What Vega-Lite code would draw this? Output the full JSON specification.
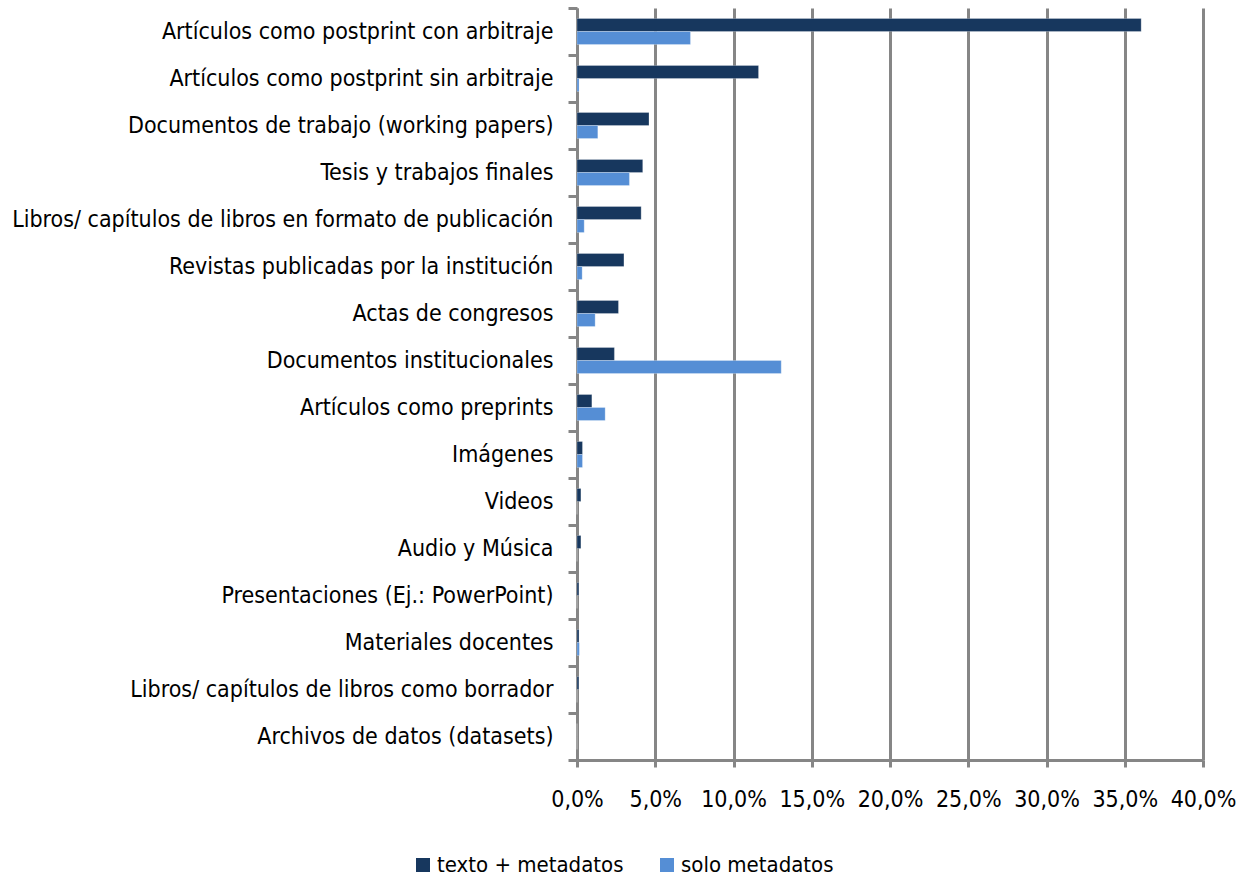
{
  "$schema": "https://vega.github.io/schema/vega-lite/v6.json",
  "width": 626,
  "height": 752,
  "autosize": {"type": "none"},
  "padding": {"left": 577, "top": 8, "right": 48, "bottom": 117},
  "background": "white",
  "config": {
    "view": {"stroke": null},
    "font": "DejaVu Sans Condensed",
    "axis": {"labelFont": "DejaVu Sans Condensed", "labelColor": "#000000"},
    "legend": {"labelFont": "DejaVu Sans Condensed", "labelColor": "#000000"}
  },
  "data": {
    "values": [
      {"cat": "Artículos como postprint con arbitraje", "serie": "texto + metadatos", "v": 36.05},
      {"cat": "Artículos como postprint con arbitraje", "serie": "solo metadatos", "v": 7.25},
      {"cat": "Artículos como postprint sin arbitraje", "serie": "texto + metadatos", "v": 11.6},
      {"cat": "Artículos como postprint sin arbitraje", "serie": "solo metadatos", "v": 0.13},
      {"cat": "Documentos de trabajo (working papers)", "serie": "texto + metadatos", "v": 4.6},
      {"cat": "Documentos de trabajo (working papers)", "serie": "solo metadatos", "v": 1.33},
      {"cat": "Tesis y trabajos finales", "serie": "texto + metadatos", "v": 4.2},
      {"cat": "Tesis y trabajos finales", "serie": "solo metadatos", "v": 3.35},
      {"cat": "Libros/ capítulos de libros en formato de publicación", "serie": "texto + metadatos", "v": 4.1},
      {"cat": "Libros/ capítulos de libros en formato de publicación", "serie": "solo metadatos", "v": 0.46},
      {"cat": "Revistas publicadas por la institución", "serie": "texto + metadatos", "v": 3.0},
      {"cat": "Revistas publicadas por la institución", "serie": "solo metadatos", "v": 0.33},
      {"cat": "Actas de congresos", "serie": "texto + metadatos", "v": 2.65},
      {"cat": "Actas de congresos", "serie": "solo metadatos", "v": 1.16},
      {"cat": "Documentos institucionales", "serie": "texto + metadatos", "v": 2.39},
      {"cat": "Documentos institucionales", "serie": "solo metadatos", "v": 13.05},
      {"cat": "Artículos como preprints", "serie": "texto + metadatos", "v": 0.95},
      {"cat": "Artículos como preprints", "serie": "solo metadatos", "v": 1.8},
      {"cat": "Imágenes", "serie": "texto + metadatos", "v": 0.35},
      {"cat": "Imágenes", "serie": "solo metadatos", "v": 0.35},
      {"cat": "Videos", "serie": "texto + metadatos", "v": 0.25},
      {"cat": "Videos", "serie": "solo metadatos", "v": 0},
      {"cat": "Audio y Música", "serie": "texto + metadatos", "v": 0.25},
      {"cat": "Audio y Música", "serie": "solo metadatos", "v": 0},
      {"cat": "Presentaciones (Ej.: PowerPoint)", "serie": "texto + metadatos", "v": 0.12},
      {"cat": "Presentaciones (Ej.: PowerPoint)", "serie": "solo metadatos", "v": 0},
      {"cat": "Materiales docentes", "serie": "texto + metadatos", "v": 0.13},
      {"cat": "Materiales docentes", "serie": "solo metadatos", "v": 0.15},
      {"cat": "Libros/ capítulos de libros como borrador", "serie": "texto + metadatos", "v": 0.12},
      {"cat": "Libros/ capítulos de libros como borrador", "serie": "solo metadatos", "v": 0},
      {"cat": "Archivos de datos (datasets)", "serie": "texto + metadatos", "v": 0},
      {"cat": "Archivos de datos (datasets)", "serie": "solo metadatos", "v": 0}
    ]
  },
  "mark": {"type": "bar", "stroke": "#ffffff", "strokeOpacity": 0.5, "strokeWidth": 0.5},
  "encoding": {
    "y": {
      "field": "cat",
      "type": "nominal",
      "sort": null,
      "scale": {"paddingInner": 0, "paddingOuter": 0},
      "axis": {
        "title": null,
        "tickBand": "extent",
        "ticks": true,
        "tickSize": 9,
        "tickWidth": 3,
        "tickColor": "#868686",
        "domainColor": "#868686",
        "domainWidth": 3,
        "labelFontSize": 23,
        "labelPadding": 15,
        "labelLimit": 800,
        "grid": false
      }
    },
    "yOffset": {
      "field": "serie",
      "type": "nominal",
      "sort": ["texto + metadatos", "solo metadatos"],
      "scale": {"paddingInner": 0, "paddingOuter": 0.808}
    },
    "x": {
      "field": "v",
      "type": "quantitative",
      "scale": {"domain": [0, 40], "nice": false},
      "axis": {
        "title": null,
        "values": [0, 5, 10, 15, 20, 25, 30, 35, 40],
        "labelExpr": "replace(format(datum.value, '.1f'), '.', ',') + '%'",
        "grid": true,
        "gridColor": "#868686",
        "gridWidth": 3,
        "domainColor": "#868686",
        "domainWidth": 3,
        "tickColor": "#868686",
        "tickWidth": 3,
        "tickSize": 7,
        "labelFontSize": 23,
        "labelPadding": 21,
        "labelFlush": false
      }
    },
    "color": {
      "field": "serie",
      "type": "nominal",
      "sort": ["texto + metadatos", "solo metadatos"],
      "scale": {"domain": ["texto + metadatos", "solo metadatos"], "range": ["#17375E", "#558ED5"]},
      "legend": {
        "title": null,
        "orient": "none",
        "legendX": -165,
        "legendY": 846,
        "direction": "horizontal",
        "columns": 2,
        "symbolType": "square",
        "symbolSize": 196,
        "symbolStrokeWidth": 0,
        "labelFontSize": 22,
        "labelLimit": 500,
        "labelOffset": 3,
        "columnPadding": 32
      }
    }
  }
}
